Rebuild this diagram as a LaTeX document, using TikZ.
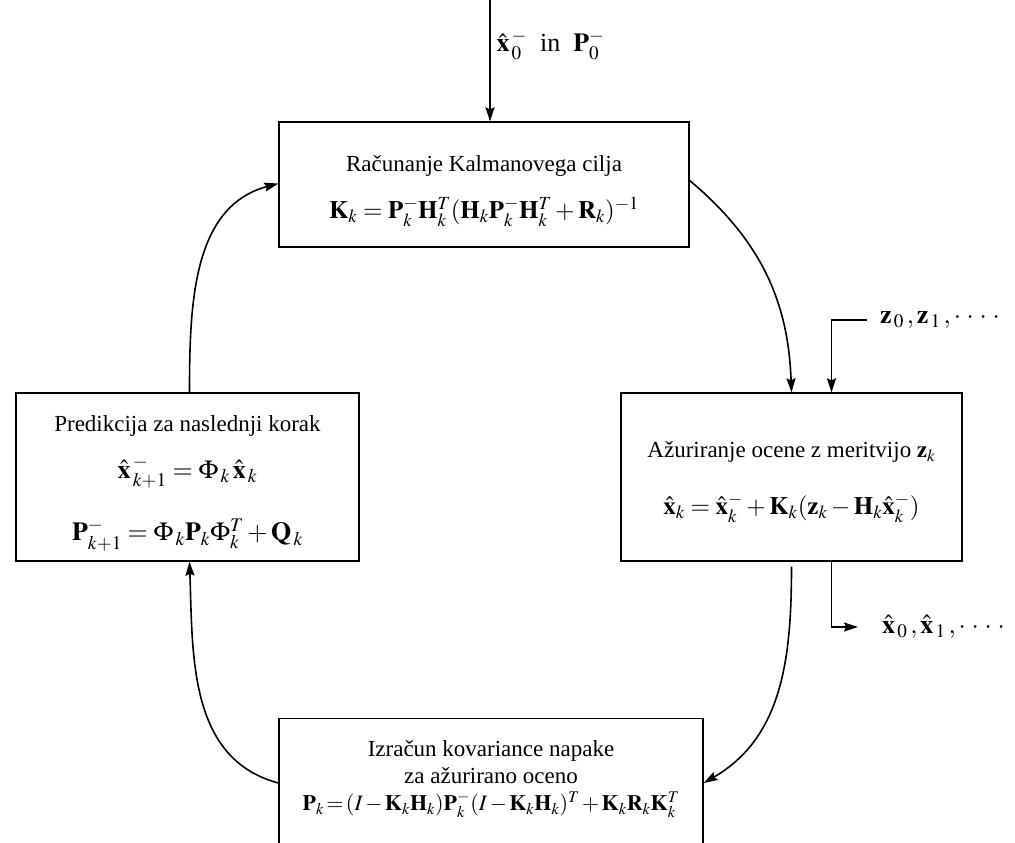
\documentclass[tikz,border=0pt]{standalone}
\usepackage{mathptmx}
\usepackage{fontspec}
\setmainfont{Liberation Serif}
\usetikzlibrary{arrows.meta}

\tikzset{
  blok/.style={draw, line width=1.3pt, align=center, inner sep=0pt,
    font=\fontsize{23}{27}\selectfont},
  pot/.style={line width=1.6pt, -{Stealth[length=14pt,width=9pt,inset=2pt]}},
  oznaka/.style={anchor=west, inner ysep=0pt, font=\fontsize{26}{30}\selectfont}
}
\newcommand{\vx}{\hat{\mathbf{x}}}
\newcommand{\pike}{\mathord{\cdot}\;\mathord{\cdot}\;\mathord{\cdot}\;\mathord{\cdot}}
\newcommand{\vecji}{\fontsize{25}{30}\selectfont}

\begin{document}
\begin{tikzpicture}[x=1pt,y=1pt]
  \clip (0,0) rectangle (1015,-843);

  %bloki
  \node[blok, minimum width=410pt, minimum height=125pt] (cilj) at (484,-184.5)
    {\rule{0pt}{30pt}Računanje Kalmanovega cilja\\[20pt]
     {\vecji$\mathbf{K}_k=\mathbf{P}_k^-\mathbf{H}_k^T(\mathbf{H}_k\mathbf{P}_k^-\mathbf{H}_k^T+\mathbf{R}_k)^{-1}$}};
  \node[blok, minimum width=341pt, minimum height=168pt] (ocena) at (791.5,-477)
    {\rule{0pt}{26pt}Ažuriranje ocene z meritvijo $\mathbf{z}_k$\\[30pt]
     {\vecji$\vx_k=\vx_k^-+\mathbf{K}_k(\mathbf{z}_k-\mathbf{H}_k\vx_k^-)$}};
  \node[blok, minimum width=343pt, minimum height=168pt] (pred) at (187.5,-477)
    {\rule{0pt}{28pt}Predikcija za naslednji korak\\[20pt]
     {\fontsize{26}{30}\selectfont$\vx_{\,k+1}^{\,-}=\Phi_{\,k}\,\vx_{\,k}$}\\[30pt]
     {\fontsize{26}{30}\selectfont$\mathbf{P}_{k+1}^-=\Phi_{\,k}\mathbf{P}_k\Phi_k^T+\mathbf{Q}_{\,k}$}};
  \node[draw, line width=1.3pt, inner sep=0pt, anchor=north,
    font=\fontsize{23}{27}\selectfont] (kov) at (491,-718)
    {\parbox[t][150pt][t]{424pt}{\centering\rule{0pt}{38pt}Izračun kovariance napake\\
     za ažurirano oceno\\
     {\fontsize{22}{27}\selectfont\thickmuskip=2mu\medmuskip=2mu
     $\mathbf{P}_k=(I-\mathbf{K}_k\mathbf{H}_k)\mathbf{P}_k^-(I-\mathbf{K}_k\mathbf{H}_k)^T+\mathbf{K}_k\mathbf{R}_k\mathbf{K}_k^T$}}};

  %vhod in izhod
  \coordinate (vhod) at (490,0);
  \node[oznaka] (zacetek) at (493,-45) {$\vx_{\,0}^{\,-}$\enspace in\enspace$\mathbf{P}_0^-$};
  \node[oznaka, inner xsep=13pt] (meritve) at (867,-320) {$\mathbf{z}_{\,0}\,,\mathbf{z}_{\,1}\,,\pike$};
  \node[oznaka, inner xsep=24pt] (izhod) at (858,-627) {$\vx_{\,0}\,,\vx_{\,1}\,,\pike$};

  \draw[pot] (vhod) -- (vhod |- cilj.north);
  \draw[pot] (meritve.west) -| ([xshift=40pt]ocena.north);
  \draw[pot] ([xshift=40pt]ocena.south) |- (izhod.west);

  %zanka
  \draw[pot] ([yshift=4pt]cilj.east) to[out=-40,in=92] (ocena.north);
  \draw[pot] ([yshift=-5pt]ocena.south) to[out=-90,in=30] ([yshift=-65pt]kov.north east);
  \draw[pot] ([yshift=-65pt]kov.north west) to[out=165,in=-88] ([xshift=2pt]pred.south);
  \draw[pot] ([xshift=2pt]pred.north) to[out=90,in=195] ([yshift=1pt]cilj.west);
\end{tikzpicture}
\end{document}
